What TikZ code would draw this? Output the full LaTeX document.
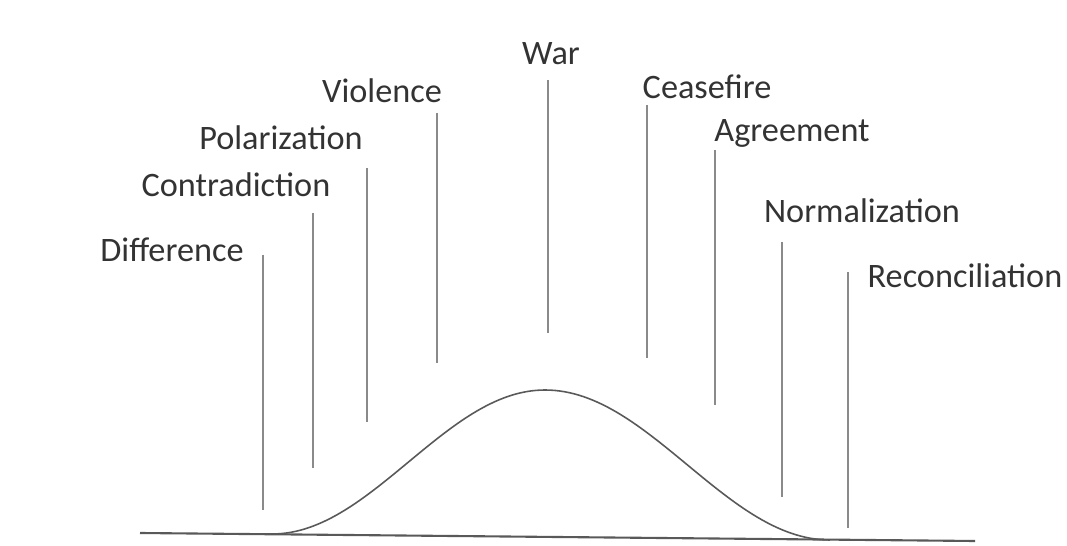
\documentclass[tikz,border=0pt]{standalone}
\usepackage{fontspec}
\setmainfont{Carlito}

\definecolor{labelgray}{HTML}{333333}
\definecolor{stemgray}{HTML}{8A8A8A}
\definecolor{curvegray}{HTML}{595959}

\begin{document}
\begin{tikzpicture}[
    x=0.02cm, y=-0.02cm,
    phase/.style={anchor=base, inner sep=0pt, text=labelgray,
                  font=\fontsize{19.5}{22}\selectfont},
    stem/.style={draw=stemgray, line width=1.1pt},
    curve/.style={draw=curvegray, line width=0.9pt, line join=round},
    axisline/.style={draw=curvegray, line width=1.2pt}
  ]
  \useasboundingbox (0,0) rectangle (1067,546);

  % phase labels
  \node[phase] (dif) at (172,262) {Difference};
  \node[phase] (con) at (236,197) {Contradiction};
  \node[phase] (pol) at (281,150) {Polarization};
  \node[phase] (vio) at (382,103) {Violence};
  \node[phase] (war) at (551,65)  {War};
  \node[phase] (cea) at (707,99)  {Ceasefire};
  \node[phase] (agr) at (792,142) {Agreement};
  \node[phase] (nor) at (862,223) {Normalization};
  \node[phase] (rec) at (965,288) {Reconciliation};

  % vertical markers
  \foreach \n/\xx/\yt/\yb in {dif/263/255/510, con/313/213/468,
      pol/367/168/422, vio/437/113/363, war/548/80/333,
      cea/647/105/358, agr/715/150/405, nor/782/242/497,
      rec/848/272/528} {
    \coordinate (\n-top) at (\xx,\yt);
    \coordinate (\n-bot) at (\xx,\yb);
    \draw[stem] (\n-top) -- (\n-bot);
  }

  % base line and bell curve
  \coordinate (base-l) at (140,533);
  \coordinate (base-r) at (975,541);
  \draw[axisline] (base-l) -- (base-r);
  \draw[curve] plot[domain=272:545, samples=60]
      (\x, {534-72*(1+cos((\x-545)/273*180))})
    -- plot[domain=545:830, samples=60]
      (\x, {540-75*(1+cos((\x-545)/285*180))});
\end{tikzpicture}
\end{document}
